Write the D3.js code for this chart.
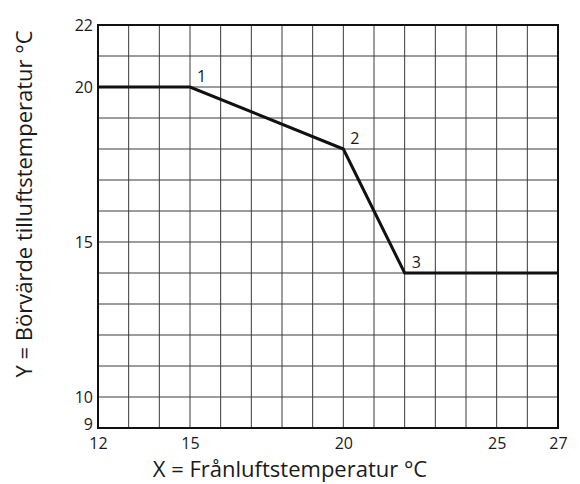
<!DOCTYPE html>
<html>
<head>
<meta charset="utf-8">
<script src="https://cdn.jsdelivr.net/npm/d3@7"></script>
<style>
  body { margin: 0; background: #fff; }
  text { font-family: "Open Sans", "Noto Sans", sans-serif; fill: #1a1a1a; }
</style>
</head>
<body>
<script>
// curve points (Frånluft -> Börvärde tilluft)
var xValues = [12, 15, 20, 22, 27];
var yValues = [20, 20, 18, 14, 14];
var pointLabels = [null, "1", "2", "3", null];
var xTicks = [12, 15, 20, 25, 27];
var yTicks = [9, 10, 15, 20, 22];

(function() {
  var width = 580, height = 484;
  var mLeft = 98, mRight = 558, mTop = 25, mBottom = 428;

  var svg = d3.select("body").append("svg")
    .attr("width", width)
    .attr("height", height);

  var x = d3.scaleLinear().domain([12, 27]).range([mLeft, mRight]);
  var y = d3.scaleLinear().domain([9, 22]).range([mBottom, mTop]);

  // grid every 1 unit
  var grid = svg.append("g");
  grid.selectAll("line.v")
    .data(d3.range(13, 27))
    .enter().append("line")
    .attr("x1", function(d) { return x(d); })
    .attr("x2", function(d) { return x(d); })
    .attr("y1", mTop).attr("y2", mBottom)
    .attr("stroke", "#3a3a3a").attr("stroke-width", 1);
  grid.selectAll("line.h")
    .data(d3.range(10, 22))
    .enter().append("line")
    .attr("x1", mLeft).attr("x2", mRight)
    .attr("y1", function(d) { return y(d); })
    .attr("y2", function(d) { return y(d); })
    .attr("stroke", "#3a3a3a").attr("stroke-width", 1);

  // frame
  svg.append("rect")
    .attr("x", mLeft).attr("y", mTop)
    .attr("width", mRight - mLeft).attr("height", mBottom - mTop)
    .attr("fill", "none").attr("stroke", "#111").attr("stroke-width", 2);

  // tick labels
  var xAxis = d3.axisBottom(x).tickValues(xTicks).tickSize(0).tickPadding(10).tickFormat(d3.format("d"));
  svg.append("g")
    .attr("transform", "translate(0," + mBottom + ")")
    .call(xAxis)
    .call(function(g) { g.select(".domain").remove(); })
    .selectAll("text").style("font-size", "16px").attr("fill", "#1a1a1a");

  var yAxis = d3.axisLeft(y).tickValues(yTicks).tickSize(0).tickPadding(5).tickFormat(d3.format("d"));
  svg.append("g")
    .attr("transform", "translate(" + mLeft + ",0)")
    .call(yAxis)
    .call(function(g) { g.select(".domain").remove(); })
    .selectAll("text").style("font-size", "16px").attr("fill", "#1a1a1a")
    .attr("dy", function(d) { return d === 9 ? "0.1em" : "0.32em"; });

  // curve
  var pts = xValues.map(function(d, i) { return [d, yValues[i], pointLabels[i]]; });
  svg.append("path")
    .datum(pts)
    .attr("fill", "none")
    .attr("stroke", "#111")
    .attr("stroke-width", 3)
    .attr("d", d3.line()
      .x(function(d) { return x(d[0]); })
      .y(function(d) { return y(d[1]); }));

  svg.selectAll("text.pt")
    .data(pts.filter(function(d) { return d[2]; }))
    .enter().append("text")
    .attr("class", "pt")
    .attr("x", function(d) { return x(d[0]) + 7; })
    .attr("y", function(d) { return y(d[1]) - 5; })
    .style("font-size", "16px")
    .text(function(d) { return d[2]; });

  // axis titles
  svg.append("text")
    .attr("x", 290).attr("y", 477)
    .attr("text-anchor", "middle")
    .style("font-size", "22px")
    .text("X = Frånluftstemperatur °C");

  svg.append("text")
    .attr("transform", "translate(32,204) rotate(-90)")
    .attr("text-anchor", "middle")
    .style("font-size", "22px")
    .text("Y = Börvärde tilluftstemperatur  °C");
})();
</script>
</body>
</html>
